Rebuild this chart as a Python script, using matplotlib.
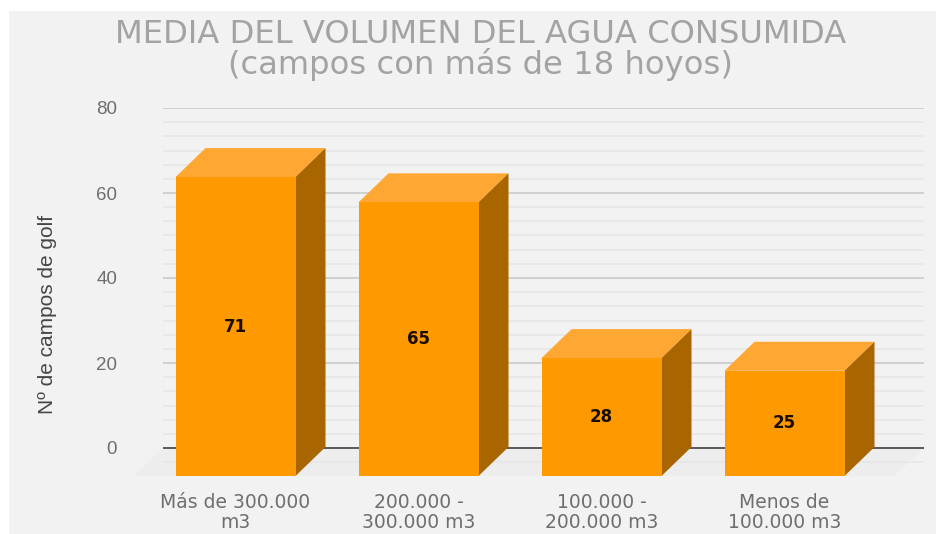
import matplotlib
matplotlib.use("Agg")
import matplotlib.pyplot as plt
from matplotlib.patches import Rectangle
from matplotlib.ticker import MultipleLocator, FixedLocator, NullFormatter

categories = ["Más de 300.000\nm3", "200.000 -\n300.000 m3", "100.000 -\n200.000 m3", "Menos de\n100.000 m3"]
values = [71, 65, 28, 25]
yticks = [0, 20, 40, 60, 80]
title_lines = "MEDIA DEL VOLUMEN DEL AGUA CONSUMIDA\n(campos con más de 18 hoyos)"
ylabel = "Nº de campos de golf"

W, H = 937, 534
BG = "#f2f2f2"
fig = plt.figure(figsize=(W / 100, H / 100), dpi=100, facecolor="white")
fig.add_artist(Rectangle((9 / W, 0), 1, 1 - 11 / H, transform=fig.transFigure, fc=BG, ec="none", zorder=-10))

# axes: back plane, 0 at y=448 px and 80 at y=108 px, x range 163-924 px
px_unit = 340 / 80
bottom_px = 476
ax = fig.add_axes([163 / W, 1 - bottom_px / H, (924 - 163) / W, (bottom_px - 108) / H])
ax.patch.set_visible(False)
step = 183.0
x0 = 235.5
ax.set_xlim((163 - x0) / step, (924 - x0) / step)
ax.set_ylim(-(bottom_px - 448) / px_unit, 80)
for s in ax.spines.values():
    s.set_visible(False)

ax.yaxis.set_major_locator(FixedLocator(yticks))
ax.yaxis.set_minor_locator(MultipleLocator(20 / 6))
ax.yaxis.set_minor_formatter(NullFormatter())
ax.tick_params(axis="y", which="both", length=0)
ax.tick_params(axis="y", which="major", pad=33, labelsize=13.5, labelcolor="#6e6e6e")
for t in ax.get_yticklabels():
    t.set_family("Liberation Sans")
ax.grid(axis="y", which="major", color="#cdcdcd", lw=1.3, zorder=1)
ax.grid(axis="y", which="minor", color="#e6e6e6", lw=1.1, zorder=1)
ax.grid(axis="x", visible=False)
ax.set_axisbelow(True)

# floor
dx_data = -30 / step
dy_data = -28 / px_unit
ax.fill([(163 - x0) / step, (924 - x0) / step, (924 - x0) / step + dx_data, (163 - x0) / step + dx_data],
        [0, 0, dy_data, dy_data], color="#ececec", lw=0, zorder=0.5, clip_on=False, alpha=0.8)
ax.axhline(0, color="#5a5a5a", lw=1.4, zorder=2)

# bars: front plane is shifted down-left and has its own scale
front_scale = 4.21 / px_unit
bw = 120 / step
dx = 30 / step
dy = 29 / px_unit
xs = list(range(len(values)))
fronts = [v * front_scale for v in values]
ax.bar(xs, fronts, width=bw, bottom=dy_data, color="#ff9900", lw=0, zorder=5, clip_on=False)
for x, f in zip(xs, fronts):
    top = dy_data + f
    l, r = x - bw / 2, x + bw / 2
    ax.fill([l, r, r + dx, l + dx], [top, top, top + dy, top + dy], color="#ffa733", lw=0, zorder=4)
    ax.fill([r, r + dx, r + dx, r], [dy_data, dy_data + dy, top + dy, top], color="#a86500", lw=0, zorder=4)
for x, f, v in zip(xs, fronts, values):
    ax.text(x, dy_data + f / 2, str(v), ha="center", va="center", fontsize=12, fontweight="bold",
            color="#1a0d00", zorder=6, family="DejaVu Sans")

ax.set_xticks(xs)
ax.set_xticklabels(categories, fontsize=13.5, color="#6e6e6e", linespacing=1.03)
ax.tick_params(axis="x", length=0, pad=12.5)

fig.text(48 / W, 1 - 314 / H, ylabel, rotation=90, ha="center", va="center",
         fontsize=15, color="#454545", family="Liberation Sans")
fig.text(481 / W, 1 - 50 / H, title_lines, ha="center", va="center", fontsize=23.2,
         color="#a3a3a3", linespacing=0.925, family="DejaVu Sans")

fig.savefig("out.png", dpi=100, facecolor=fig.get_facecolor())
